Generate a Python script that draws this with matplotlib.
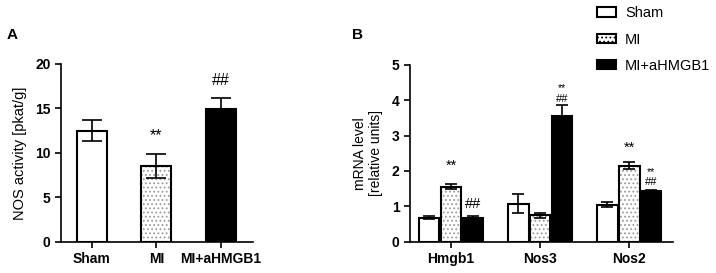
"""
NOS activity and mRNA levels, Sham / MI / MI+aHMGB1
"""
import numpy as np
import matplotlib.pyplot as plt
from matplotlib.patches import Patch

plt.rcParams['font.family'] = ['Liberation Sans', 'DejaVu Sans']
plt.rcParams['hatch.linewidth'] = 0.8

groups = ['Sham', 'MI', 'MI+aHMGB1']

# panel A: NOS activity
nos_mean = [12.5, 8.5, 14.9]
nos_err = [1.2, 1.35, 1.25]
nos_marks = ['', '**', '##']
nos_mark_y = [0, 11.9, 18.2]

# panel B: mRNA levels
genes = ['Hmgb1', 'Nos3', 'Nos2']
sham_mrna = [0.68, 1.07, 1.05]
sham_err = [0.04, 0.27, 0.07]
mi_mrna = [1.55, 0.75, 2.15]
mi_err = [0.07, 0.07, 0.10]
ab_mrna = [0.67, 3.55, 1.42]
ab_err = [0.05, 0.32, 0.05]

fig = plt.figure(figsize=(7.16, 2.73), dpi=100)
axA = fig.add_axes([0.0852, 0.1136, 0.268, 0.652])
axB = fig.add_axes([0.5726, 0.1147, 0.3674, 0.648])

lw = 1.5


def draw_bar(ax, x, h, err, kind, width, capsize):
  if kind == 'MI':
    ax.bar(x, h, width, color='white', edgecolor='#9a9a9a', hatch='....', linewidth=0)
    ax.bar(x, h, width, fill=False, edgecolor='black', linewidth=lw)
  elif kind == 'Sham':
    ax.bar(x, h, width, color='white', edgecolor='black', linewidth=lw)
  else:
    ax.bar(x, h, width, color='black', edgecolor='black', linewidth=lw)
  ax.errorbar(x, h, yerr=err, fmt='none', ecolor='black', elinewidth=1.2,
              capsize=capsize, capthick=1.2)


# panel A
xa = np.arange(3)
for i in range(3):
  draw_bar(axA, xa[i], nos_mean[i], nos_err[i], groups[i], 0.46, 7.5)
  if nos_marks[i]:
    axA.text(xa[i], nos_mark_y[i], nos_marks[i], ha='center', va='center', fontsize=11.5)
axA.set_xlim(-0.48, 2.5)
axA.set_ylim(0, 20)
axA.set_yticks([0, 5, 10, 15, 20])
axA.set_xticks(xa)
axA.set_xticklabels(groups, fontweight='bold', fontsize=10)
axA.set_ylabel('NOS activity [pkat/g]', fontsize=10.5, labelpad=6)

# panel B
xb = np.arange(3)
off = 0.245
w = 0.23
series = [('Sham', sham_mrna, sham_err), ('MI', mi_mrna, mi_err), ('MI+aHMGB1', ab_mrna, ab_err)]
for j, (kind, vals, errs) in enumerate(series):
  for i in range(3):
    draw_bar(axB, xb[i] + (j - 1) * off, vals[i], errs[i], kind, w, 4.5)

# significance marks above bars
axB.text(xb[0], 2.15, '**', ha='center', va='center', fontsize=10.5)
axB.text(xb[0] + off, 1.07, '##', ha='center', va='center', fontsize=10.5)
axB.text(xb[1] + off, 4.35, '**', ha='center', va='center', fontsize=7.5)
axB.text(xb[1] + off, 4.02, '##', ha='center', va='center', fontsize=8)
axB.text(xb[2], 2.65, '**', ha='center', va='center', fontsize=10.5)
axB.text(xb[2] + off, 1.98, '**', ha='center', va='center', fontsize=7.5)
axB.text(xb[2] + off, 1.70, '##', ha='center', va='center', fontsize=8)

axB.set_xlim(-0.46, 2.49)
axB.set_ylim(0, 5)
axB.set_yticks([0, 1, 2, 3, 4, 5])
axB.set_xticks(xb)
axB.set_xticklabels(genes, fontweight='bold', fontsize=10)
axB.set_ylabel('mRNA level\n[relative units]', fontsize=10, labelpad=6)

for ax in (axA, axB):
  ax.spines['top'].set_visible(False)
  ax.spines['right'].set_visible(False)
  ax.spines['left'].set_linewidth(1.2)
  ax.spines['bottom'].set_linewidth(1.2)
  ax.tick_params(width=1.2, length=4, labelsize=10)
  for lab in ax.get_yticklabels():
    lab.set_fontweight('bold')

fig.text(0.0098, 0.872, 'A', fontsize=11, fontweight='bold', va='center')
fig.text(0.4916, 0.872, 'B', fontsize=11, fontweight='bold', va='center')

# legend
handles = [Patch(facecolor='white', edgecolor='black', linewidth=lw),
           Patch(facecolor='white', edgecolor='black', linewidth=lw, hatch='....'),
           Patch(facecolor='black', edgecolor='black', linewidth=lw)]
fig.legend(handles, groups, loc='upper left', bbox_to_anchor=(0.818, 1.02), frameon=False,
           fontsize=10.5, handlelength=1.3, handleheight=0.6, labelspacing=0.85,
           handletextpad=0.6, borderpad=0.3)

plt.savefig('out.png', dpi=100)
